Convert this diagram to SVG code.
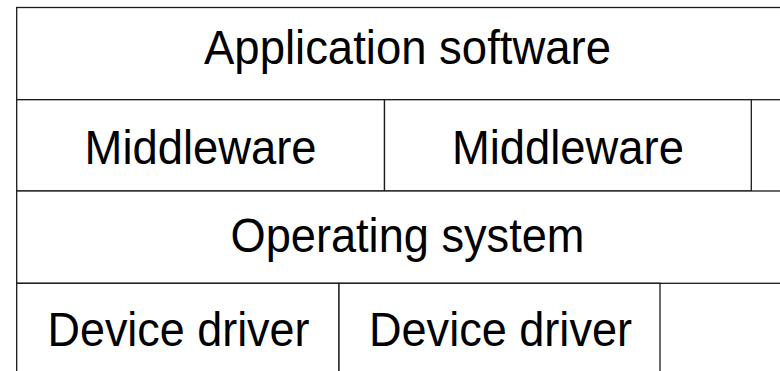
<svg xmlns="http://www.w3.org/2000/svg" width="780" height="371" viewBox="0 0 780 371">
<style>
.box{fill:#fff;stroke:#1a1a1a;stroke-width:1.3}
.lbl{font-family:"Liberation Sans",Arial,sans-serif;font-size:48px;fill:#000;text-anchor:middle}
</style>
<rect width="780" height="371" fill="#fff"/>
<g id="app"><rect class="box" x="16.7" y="7.5" width="790" height="92.2"/><text class="lbl" x="407.5" y="64" textLength="407" lengthAdjust="spacingAndGlyphs">Application software</text></g>
<g id="mw1"><rect class="box" x="16.7" y="99.7" width="367.8" height="91.3"/><text class="lbl" x="200.6" y="164" textLength="232" lengthAdjust="spacingAndGlyphs">Middleware</text></g>
<g id="mw2"><rect class="box" x="384.5" y="99.7" width="366.8" height="91.3"/><text class="lbl" x="567.9" y="164" textLength="232" lengthAdjust="spacingAndGlyphs">Middleware</text></g>
<g id="os"><rect class="box" x="16.7" y="191" width="790" height="92.3"/><text class="lbl" x="407.5" y="252" textLength="354" lengthAdjust="spacingAndGlyphs">Operating system</text></g>
<g id="dd1"><rect class="box" x="16.7" y="283.3" width="322.3" height="100"/><text class="lbl" x="178.5" y="346" textLength="262" lengthAdjust="spacingAndGlyphs">Device driver</text></g>
<g id="dd2"><rect class="box" x="339" y="283.3" width="321" height="100"/><text class="lbl" x="500.5" y="346" textLength="263" lengthAdjust="spacingAndGlyphs">Device driver</text></g>
<g id="connectors"></g>
</svg>
